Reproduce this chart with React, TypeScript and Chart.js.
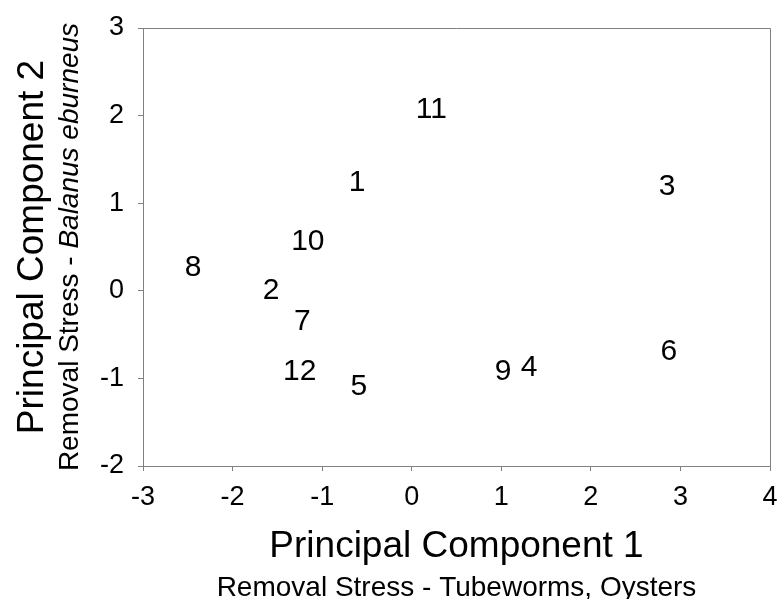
import React, { useEffect, useRef } from "react";
import { Chart, registerables } from "chart.js";

Chart.register(...registerables);

const pointLabels = ["1", "2", "3", "4", "5", "6", "7", "8", "9", "10", "11", "12"];
const pc1Values = [-0.61, -1.57, 2.85, 1.31, -0.59, 2.87, -1.22, -2.44, 1.02, -1.16, 0.22, -1.25];
const pc2Values = [1.23, 0.0, 1.19, -0.88, -1.1, -0.7, -0.35, 0.26, -0.92, 0.56, 2.07, -0.92];

const xTitle = "Principal Component 1";
const xSubtitle = "Removal Stress - Tubeworms, Oysters";
const yTitle = "Principal Component 2";
const ySubtitlePlain = "Removal Stress - ";
const ySubtitleItalic = "Balanus eburneus";

const FONT = '"Liberation Sans", Arial, sans-serif';
const AXIS_COLOR = "#808080";

export default function App() {
  const canvasRef = useRef<HTMLCanvasElement | null>(null);

  useEffect(() => {
    const canvas = canvasRef.current;
    if (!canvas) return;

    const labelPlugin = {
      id: "pointTextLabels",
      afterDatasetsDraw(chart: any) {
        const ctx = chart.ctx;
        const meta = chart.getDatasetMeta(0);
        ctx.save();
        ctx.font = `30px ${FONT}`;
        ctx.fillStyle = "#000";
        ctx.textAlign = "center";
        ctx.textBaseline = "middle";
        meta.data.forEach((el: any, i: number) => {
          ctx.fillText(pointLabels[i], el.x, el.y);
        });
        ctx.restore();
      },
    };

    const framePlugin = {
      id: "frameAndTitles",
      afterDraw(chart: any) {
        const ctx = chart.ctx;
        const a = chart.chartArea;
        ctx.save();
        ctx.strokeStyle = AXIS_COLOR;
        ctx.lineWidth = 1;
        ctx.beginPath();
        ctx.moveTo(a.left, a.top + 0.5);
        ctx.lineTo(a.right + 0.5, a.top + 0.5);
        ctx.lineTo(a.right + 0.5, a.bottom);
        ctx.stroke();

        const cx = (a.left + a.right) / 2;
        const cy = (a.top + a.bottom) / 2;
        ctx.fillStyle = "#000";
        ctx.textBaseline = "alphabetic";
        ctx.textAlign = "center";
        ctx.font = `37px ${FONT}`;
        ctx.fillText(xTitle, cx, 557);
        ctx.font = `28px ${FONT}`;
        ctx.fillText(xSubtitle, cx, 596);

        ctx.save();
        ctx.translate(43, cy);
        ctx.rotate(-Math.PI / 2);
        ctx.font = `37px ${FONT}`;
        ctx.textAlign = "center";
        ctx.fillText(yTitle, 0, 0);
        ctx.restore();

        ctx.save();
        ctx.translate(78, cy);
        ctx.rotate(-Math.PI / 2);
        ctx.textAlign = "left";
        ctx.font = `28px ${FONT}`;
        const w1 = ctx.measureText(ySubtitlePlain).width;
        ctx.font = `italic 28px ${FONT}`;
        const w2 = ctx.measureText(ySubtitleItalic).width;
        const start = -(w1 + w2) / 2;
        ctx.font = `28px ${FONT}`;
        ctx.fillText(ySubtitlePlain, start, 0);
        ctx.font = `italic 28px ${FONT}`;
        ctx.fillText(ySubtitleItalic, start + w1, 0);
        ctx.restore();

        ctx.restore();
      },
    };

    const chart = new Chart(canvas, {
      type: "scatter",
      data: {
        datasets: [
          {
            data: pc1Values.map((x, i) => ({ x, y: pc2Values[i] })),
            pointRadius: 0,
            pointHoverRadius: 0,
            showLine: false,
          },
        ],
      },
      options: {
        animation: false,
        responsive: false,
        maintainAspectRatio: false,
        layout: { padding: { top: 28, right: 9, left: 0, bottom: 0 } },
        plugins: {
          legend: { display: false },
          tooltip: { enabled: false },
          title: { display: false },
        },
        scales: {
          x: {
            type: "linear",
            min: -3,
            max: 4,
            afterFit(scale: any) {
              scale.height = 133;
              scale.paddingRight = 0;
              scale.paddingLeft = 0;
            },
            ticks: {
              stepSize: 1,
              color: "#000",
              padding: 10,
              font: { family: FONT, size: 27 },
            },
            grid: {
              drawOnChartArea: false,
              drawTicks: true,
              tickLength: 5,
              color: AXIS_COLOR,
            },
            border: { display: true, color: AXIS_COLOR },
          },
          y: {
            type: "linear",
            min: -2,
            max: 3,
            afterFit(scale: any) {
              scale.width = 143;
              scale.paddingTop = 0;
              scale.paddingBottom = 0;
            },
            ticks: {
              stepSize: 1,
              color: "#000",
              padding: 14,
              font: { family: FONT, size: 27 },
            },
            grid: {
              drawOnChartArea: false,
              drawTicks: true,
              tickLength: 5,
              color: AXIS_COLOR,
            },
            border: { display: true, color: AXIS_COLOR },
          },
        },
      },
      plugins: [labelPlugin, framePlugin],
    });

    return () => chart.destroy();
  }, []);

  return (
    <div style={{ position: "absolute", left: 0, top: 0, width: 779, height: 599, background: "#fff" }}>
      <canvas ref={canvasRef} width={779} height={599} style={{ display: "block" }} />
    </div>
  );
}
